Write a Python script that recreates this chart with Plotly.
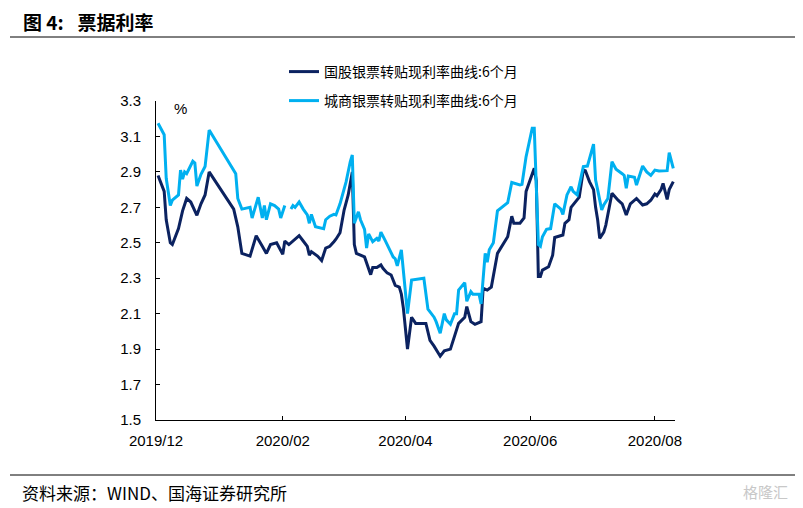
import plotly.graph_objects as go

# ---- data ----
dark_dates = [
    "2019-12-02", "2019-12-05", "2019-12-06", "2019-12-08", "2019-12-09", "2019-12-12",
    "2019-12-14", "2019-12-16", "2019-12-18", "2019-12-21", "2019-12-23", "2019-12-25",
    "2019-12-27", "2020-01-08", "2020-01-10", "2020-01-12", "2020-01-16", "2020-01-19",
    "2020-01-22", "2020-01-24", "2020-01-26", "2020-01-29", "2020-02-01", "2020-02-02",
    "2020-02-04", "2020-02-06", "2020-02-09", "2020-02-11", "2020-02-13", "2020-02-14",
    "2020-02-15", "2020-02-18", "2020-02-20", "2020-02-22", "2020-02-24", "2020-02-26",
    "2020-02-27", "2020-02-29", "2020-03-02", "2020-03-04", "2020-03-06", "2020-03-07",
    "2020-03-08", "2020-03-12", "2020-03-13", "2020-03-15", "2020-03-16", "2020-03-18",
    "2020-03-20", "2020-03-21", "2020-03-23", "2020-03-25", "2020-03-27", "2020-03-29",
    "2020-03-30", "2020-03-31", "2020-04-02", "2020-04-04", "2020-04-06", "2020-04-11",
    "2020-04-13", "2020-04-15", "2020-04-18", "2020-04-20", "2020-04-23", "2020-04-25",
    "2020-04-27", "2020-04-30", "2020-05-01", "2020-05-03", "2020-05-05", "2020-05-08",
    "2020-05-09", "2020-05-11", "2020-05-13", "2020-05-16", "2020-05-18", "2020-05-21",
    "2020-05-23", "2020-05-24", "2020-05-27", "2020-05-29", "2020-05-30", "2020-06-01",
    "2020-06-03", "2020-06-04", "2020-06-05", "2020-06-06", "2020-06-07", "2020-06-10",
    "2020-06-12", "2020-06-13", "2020-06-15", "2020-06-17", "2020-06-18", "2020-06-20",
    "2020-06-21", "2020-06-23", "2020-06-25", "2020-06-27", "2020-06-28", "2020-06-30",
    "2020-07-02", "2020-07-03", "2020-07-04", "2020-07-05", "2020-07-07", "2020-07-08",
    "2020-07-11", "2020-07-14", "2020-07-16", "2020-07-18", "2020-07-20", "2020-07-23",
    "2020-07-26", "2020-07-28", "2020-07-30", "2020-08-01", "2020-08-02", "2020-08-04",
    "2020-08-05", "2020-08-07", "2020-08-08", "2020-08-10",
]
dark_values = [
    2.88, 2.79, 2.63, 2.50, 2.49, 2.58,
    2.68, 2.75, 2.73, 2.655, 2.72, 2.77,
    2.90, 2.69, 2.59, 2.44, 2.425, 2.54,
    2.48, 2.44, 2.49, 2.50, 2.435, 2.51,
    2.49, 2.51, 2.54, 2.51, 2.48, 2.43,
    2.45, 2.425, 2.40, 2.47, 2.48, 2.506,
    2.52, 2.557, 2.685, 2.77, 2.90, 2.49,
    2.44, 2.42, 2.39, 2.32, 2.36, 2.36,
    2.375, 2.356, 2.33, 2.318, 2.26, 2.25,
    2.21, 2.13, 1.90, 2.08, 2.045, 2.045,
    1.95, 1.917, 1.86, 1.89, 1.90, 1.98,
    2.045, 2.08, 2.14, 2.055, 2.04, 2.055,
    2.243, 2.233, 2.25, 2.44, 2.48, 2.534,
    2.65, 2.61, 2.61, 2.64, 2.79, 2.854,
    2.92, 2.85, 2.31, 2.31, 2.346, 2.365,
    2.43, 2.53, 2.538, 2.544, 2.61, 2.63,
    2.70, 2.73, 2.757, 2.91, 2.907, 2.845,
    2.80, 2.70, 2.63, 2.525, 2.56, 2.60,
    2.78, 2.74, 2.72, 2.657, 2.72, 2.75,
    2.713, 2.72, 2.74, 2.775, 2.765, 2.80,
    2.835, 2.745, 2.80, 2.845,
]

light_dates = [
    "2019-12-02", "2019-12-05", "2019-12-06", "2019-12-08", "2019-12-09", "2019-12-12",
    "2019-12-13", "2019-12-14", "2019-12-15", "2019-12-16", "2019-12-19", "2019-12-20",
    "2019-12-21", "2019-12-23", "2019-12-25", "2019-12-27", "2020-01-09", "2020-01-10",
    "2020-01-12", "2020-01-16", "2020-01-17", "2020-01-20", "2020-01-22", "2020-01-23",
    "2020-01-24", "2020-01-26", "2020-01-28", "2020-01-30", "2020-01-31", "2020-02-02",
    "2020-02-03", "2020-02-05", "2020-02-06", "2020-02-07", "2020-02-09", "2020-02-11",
    "2020-02-13", "2020-02-14", "2020-02-15", "2020-02-17", "2020-02-19", "2020-02-21",
    "2020-02-22", "2020-02-24", "2020-02-26", "2020-02-27", "2020-02-29", "2020-03-03",
    "2020-03-05", "2020-03-06", "2020-03-07", "2020-03-09", "2020-03-10", "2020-03-12",
    "2020-03-13", "2020-03-14", "2020-03-16", "2020-03-18", "2020-03-19", "2020-03-20",
    "2020-03-22", "2020-03-24", "2020-03-26", "2020-03-27", "2020-03-28", "2020-03-30",
    "2020-03-31", "2020-04-02", "2020-04-04", "2020-04-10", "2020-04-12", "2020-04-15",
    "2020-04-16", "2020-04-18", "2020-04-20", "2020-04-21", "2020-04-23", "2020-04-25",
    "2020-04-26", "2020-04-27", "2020-04-30", "2020-05-01", "2020-05-03", "2020-05-04",
    "2020-05-07", "2020-05-08", "2020-05-10", "2020-05-11", "2020-05-12", "2020-05-14",
    "2020-05-16", "2020-05-21", "2020-05-23", "2020-05-27", "2020-05-28", "2020-05-30",
    "2020-06-02", "2020-06-03", "2020-06-05", "2020-06-06", "2020-06-07", "2020-06-09",
    "2020-06-11", "2020-06-13", "2020-06-16", "2020-06-17", "2020-06-19", "2020-06-21",
    "2020-06-22", "2020-06-24", "2020-06-27", "2020-06-29", "2020-07-02", "2020-07-03",
    "2020-07-04", "2020-07-06", "2020-07-07", "2020-07-09", "2020-07-11", "2020-07-13",
    "2020-07-16", "2020-07-17", "2020-07-18", "2020-07-19", "2020-07-22", "2020-07-23",
    "2020-07-26", "2020-07-28", "2020-07-30", "2020-08-01", "2020-08-03", "2020-08-07",
    "2020-08-08", "2020-08-10",
]
light_values = [
    3.174, 3.11, 2.864, 2.71, 2.74, 2.77,
    2.91, 2.86, 2.90, 2.89, 2.96, 2.95,
    2.82, 2.886, 2.93, 3.136, 2.89, 2.75,
    2.69, 2.70, 2.64, 2.757, 2.64, 2.71,
    2.63, 2.72, 2.71, 2.69, 2.64, 2.71,
    None, 2.69, 2.71, 2.70, 2.73, 2.69,
    2.657, 2.61, 2.66, 2.59, 2.585, 2.58,
    2.63, 2.65, 2.66, 2.657, 2.72, 2.845,
    2.957, 2.995, 2.61, 2.675, 2.63, 2.576,
    2.47, 2.55, 2.506, 2.525, 2.51, 2.56,
    2.515, 2.47, 2.42, 2.41, 2.37, 2.46,
    2.33, 2.10, 2.29, 2.30, 2.125, 2.08,
    2.055, 1.99, 2.10, 2.065, 2.04, 2.10,
    2.10, 2.233, 2.275, 2.17, 2.224, 2.21,
    2.21, 2.155, 2.44, 2.39, 2.46, 2.50,
    2.68, 2.726, 2.84, 2.826, 2.83, 2.986,
    3.146, 3.146, 2.49, 2.48, 2.534, 2.576,
    2.58, 2.72, 2.69, 2.66, 2.77, 2.816,
    2.79, 2.77, 2.93, 2.933, 3.057, 2.854,
    2.80, 2.685, 2.713, 2.75, 2.957, 2.915,
    2.89, 2.88, 2.807, 2.877, 2.87, 2.826,
    2.933, 2.90, 2.88, 2.91, 2.905, 2.907,
    3.008, 2.92,
]

series_names = ["国股银票转贴现利率曲线:6个月", "城商银票转贴现利率曲线:6个月"]
series_colors = ["#0b2260", "#00b0f0"]

x_tick_vals = ["2019-12-01", "2020-02-01", "2020-04-01", "2020-06-01", "2020-08-01"]
x_tick_text = ["2019/12", "2020/02", "2020/04", "2020/06", "2020/08"]
y_tick_vals = [1.5, 1.7, 1.9, 2.1, 2.3, 2.5, 2.7, 2.9, 3.1, 3.3]
y_tick_text = ["1.5", "1.7", "1.9", "2.1", "2.3", "2.5", "2.7", "2.9", "3.1", "3.3"]

title_text = "<b>图 4:</b>\u2002 <b>票据利率</b>"
source_text = "资料来源：WIND、国海证券研究所"
unit_text = "%"
watermark_text = "格隆汇"

FONT = "Liberation Sans, Arial, sans-serif"
CJK = "Noto Sans CJK SC, sans-serif"

# plot area in page pixels (page body adds an 8px offset)
OFF = 8
PL, PR, PT, PB = 156, 675, 101, 420
PW, PH = PR - PL, PB - PT


def px(x):
    return (x - PL) / PW


def py(y):
    return (PB - y) / PH


fig = go.Figure()
fig.add_trace(go.Scatter(
    x=dark_dates, y=dark_values, mode="lines", name=series_names[0],
    line=dict(color=series_colors[0], width=3), legend="legend",
))
fig.add_trace(go.Scatter(
    x=light_dates, y=light_values, mode="lines", name=series_names[1],
    line=dict(color=series_colors[1], width=3), legend="legend2", connectgaps=False,
))

legend_common = dict(
    font=dict(family=CJK, size=14, color="#000000"),
    bgcolor="rgba(0,0,0,0)", borderwidth=0,
    xanchor="left", yanchor="middle", x=px(284),
)

fig.update_layout(
    width=803, height=508,
    margin=dict(l=PL - OFF, r=803 - PR + OFF, t=PT - OFF, b=508 - PB + OFF),
    paper_bgcolor="white", plot_bgcolor="white",
    showlegend=True,
    legend=dict(y=py(72), **legend_common),
    legend2=dict(y=py(101), **legend_common),
    xaxis=dict(
        type="date",
        range=["2019-12-01", "2020-08-10 20:00"],
        tickvals=x_tick_vals, ticktext=x_tick_text,
        ticks="inside", ticklen=4, tickcolor="#000000",
        showline=True, linecolor="#000000", linewidth=1,
        showgrid=False, zeroline=False,
        ticklabelstandoff=7,
        tickfont=dict(family=FONT, size=15, color="#000000"),
    ),
    yaxis=dict(
        range=[1.5, 3.3],
        tickvals=y_tick_vals, ticktext=y_tick_text,
        ticks="inside", ticklen=4, tickcolor="#000000",
        showline=True, linecolor="#000000", linewidth=1,
        showgrid=False, zeroline=False,
        ticklabelstandoff=11,
        tickfont=dict(family=FONT, size=15, color="#000000"),
    ),
    shapes=[
        dict(type="line", xref="paper", yref="paper", x0=px(10), x1=px(800),
             y0=py(37), y1=py(37), line=dict(color="#000000", width=1)),
        dict(type="line", xref="paper", yref="paper", x0=px(10), x1=px(796),
             y0=py(475), y1=py(475), line=dict(color="#000000", width=1)),
    ],
    annotations=[
        dict(text=title_text, xref="paper", yref="paper",
             x=px(21), y=py(22), xanchor="left", yanchor="middle", showarrow=False,
             font=dict(family=CJK, size=19, color="#000000")),
        dict(text=source_text, xref="paper", yref="paper",
             x=px(20), y=py(492), xanchor="left", yanchor="middle", showarrow=False,
             font=dict(family=CJK, size=17, color="#000000")),
        dict(text=unit_text, xref="paper", yref="paper",
             x=px(172), y=py(108), xanchor="left", yanchor="middle", showarrow=False,
             font=dict(family=FONT, size=15, color="#000000")),
        dict(text=watermark_text, xref="paper", yref="paper",
             x=px(790), y=py(491), xanchor="right", yanchor="middle", showarrow=False,
             font=dict(family=CJK, size=15, color="#c8c8c8")),
    ],
)

fig.write_html("out.html")
